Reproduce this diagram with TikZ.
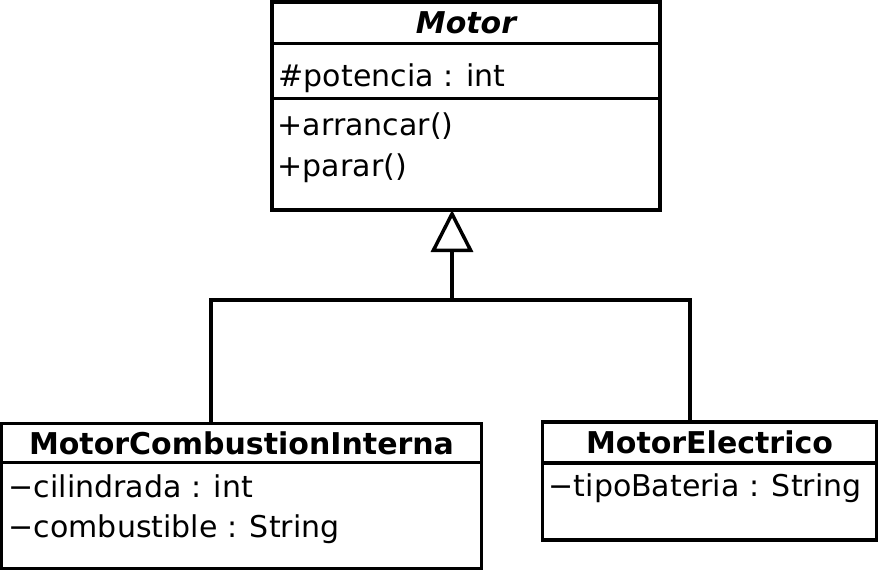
\documentclass[tikz,border=0pt]{standalone}
\usepackage{fontspec}
\setmainfont{DejaVu Sans}
\usetikzlibrary{arrows.meta}

\begin{document}
\begin{tikzpicture}[x=1pt, y=-1pt, line width=3.5pt,
	every node/.style={font=\fontsize{30}{41}\selectfont},
	umlbox/.style={draw, rectangle, outer sep=0pt, inner sep=0pt, anchor=north west},
	umltitle/.style={umlbox, font=\fontsize{30}{41}\selectfont\bfseries},
	member/.style={anchor=base west, inner sep=0pt}]
\useasboundingbox (0,0) rectangle (882,573);
%superclass
\node[umltitle, font=\fontsize{30}{41}\selectfont\bfseries\itshape, minimum width=388pt, minimum height=41.5pt] (motor) at (272,2) {Motor};
\node[umlbox, minimum width=388pt, minimum height=55pt] (motorattr) at (motor.south west) {};
\node[umlbox, minimum width=388pt, minimum height=111.5pt] (motorops) at (motorattr.south west) {};
\node[member] (potencia) at (277,86) {\#potencia : int};
\node[member] (arrancar) at (276,135) {+arrancar()};
\node[member] (parar) at (276,176) {+parar()};
%subclasses
\node[umltitle, minimum width=480pt, minimum height=39pt] (mci) at (1.5,423.5) {MotorCombustionInterna};
\node[umlbox, minimum width=480pt, minimum height=106pt] (mciattr) at (mci.south west) {};
\node[member] (cilindrada) at (7,497) {−cilindrada : int};
\node[member] (combustible) at (7,537) {−combustible : String};
\node[umltitle, minimum width=334pt, minimum height=41pt] (me) at (542.5,422) {MotorElectrico};
\node[umlbox, minimum width=334pt, minimum height=77pt] (meattr) at (me.south west) {};
\node[member] (tipobateria) at (547,496) {−tipoBateria : String};
%generalization
\coordinate (joint) at (452,300);
\draw[-{Triangle[open, length=42pt, width=42pt]}] ([xshift=209.5pt]mci.north west) |- (joint) -- ([xshift=-14pt]motorops.south);
\draw ([xshift=147.5pt]me.north west) |- (joint);
\end{tikzpicture}
\end{document}
